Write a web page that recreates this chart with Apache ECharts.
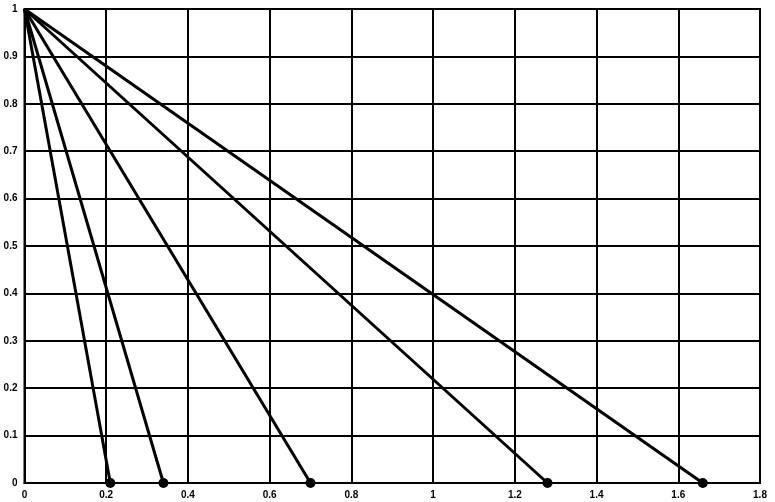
<!DOCTYPE html>
<html><head><meta charset="utf-8">
<script src="https://cdn.jsdelivr.net/npm/echarts@6/dist/echarts.min.js"></script>
<style>html,body{margin:0;padding:0;background:#fff}#c{width:775px;height:502px}</style>
</head><body><div id="c"></div>
<script>
const startPoint = [0, 1];
const endXs = [0.21, 0.34, 0.70, 1.28, 1.66];
const xTicks = [0, 0.2, 0.4, 0.6, 0.8, 1, 1.2, 1.4, 1.6, 1.8];
const yTicks = [0, 0.1, 0.2, 0.3, 0.4, 0.5, 0.6, 0.7, 0.8, 0.9, 1];

const chart = echarts.init(document.getElementById('c'));
const labelFont = {fontFamily: 'Liberation Sans Narrow, Liberation Sans, sans-serif', fontWeight: 'bold', fontSize: 10, color: '#000'};
const series = endXs.map(x => ({
  type: 'line',
  data: [
    {value: startPoint, symbol: 'none'},
    {value: [x, 0], symbol: 'circle', symbolSize: 10}
  ],
  showSymbol: true,
  lineStyle: {color: '#000', width: 3},
  itemStyle: {color: '#000'},
  animation: false,
  z: 5
}));
chart.setOption({
  backgroundColor: '#fff',
  animation: false,
  grid: {left: 24.5, right: 15, top: 9, bottom: 19, show: true, borderColor: '#000', borderWidth: 2},
  xAxis: {
    type: 'value', min: 0, max: 1.8, interval: 0.2,
    axisLine: {lineStyle: {color: '#000', width: 2}},
    axisTick: {show: false},
    splitLine: {show: true, lineStyle: {color: '#000', width: 2}},
    axisLabel: Object.assign({margin: 7, formatter: v => String(+v.toFixed(1))}, labelFont)
  },
  yAxis: {
    type: 'value', min: 0, max: 1, interval: 0.1,
    axisLine: {lineStyle: {color: '#000', width: 2}},
    axisTick: {show: false},
    splitLine: {show: true, lineStyle: {color: '#000', width: 2}},
    axisLabel: Object.assign({margin: 7, formatter: v => String(+v.toFixed(1))}, labelFont)
  },
  series: series
});
</script></body></html>
